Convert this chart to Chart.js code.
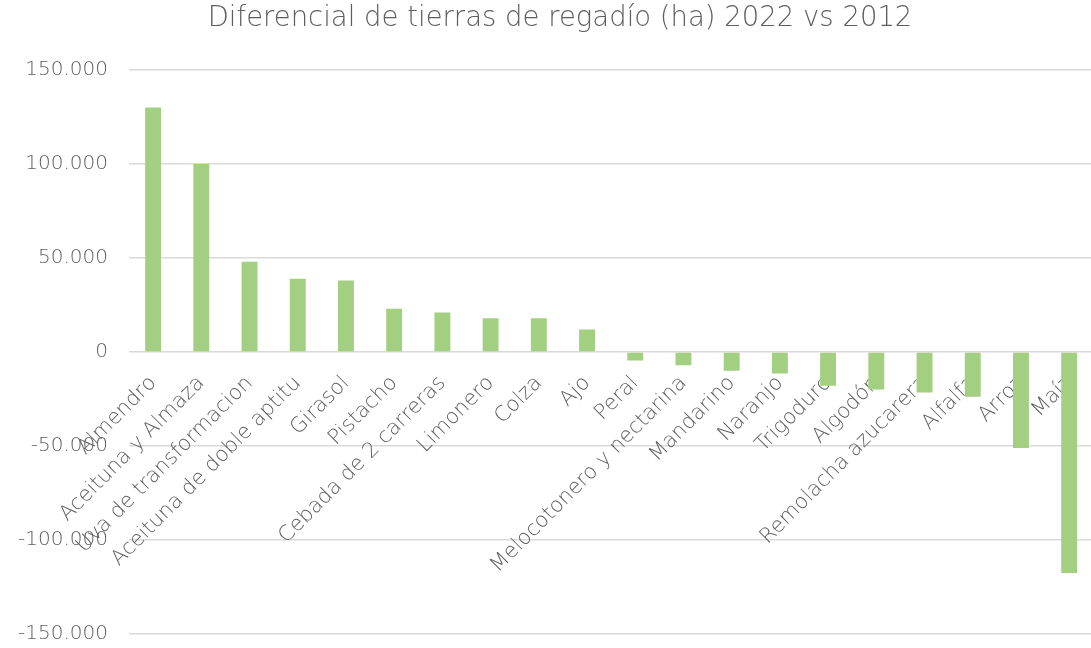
<!DOCTYPE html>
<html>
<head>
<meta charset="utf-8">
<script src="https://cdn.jsdelivr.net/npm/chart.js@4"></script>
<style>
  html, body { margin: 0; padding: 0; background: #fff; overflow: hidden; }
  #wrap { width: 1098px; height: 648px; }
</style>
</head>
<body>
<div id="wrap"><canvas id="c"></canvas></div>
<script>
const categories = ['Almendro', 'Aceituna y Almaza', 'Uva de transformacion', 'Aceituna de doble aptitu', 'Girasol', 'Pistacho', 'Cebada de 2 carreras', 'Limonero', 'Colza', 'Ajo', 'Peral', 'Melocotonero y nectarina', 'Mandarino', 'Naranjo', 'Trigoduro', 'Algodón', 'Remolacha azucarera', 'Alfalfa', 'Arroz', 'Maíz'];
const diferencial = [130000, 100000, 48000, 39000, 38000, 23000, 21000, 18000, 18000, 12000, -4500, -7000, -10000, -11500, -18000, -20000, -21500, -23800, -51000, -117500];
const yTicks = [-150000, -100000, -50000, 0, 50000, 100000, 150000];
const titleText = 'Diferencial de tierras de regadío (ha) 2022 vs 2012';

function fmt(v) {
  const s = Math.abs(v).toString().replace(/\B(?=(\d{3})+(?!\d))/g, '.');
  return (v < 0 ? '-' : '') + s;
}

new Chart(document.getElementById('c'), {
  type: 'bar',
  data: {
    labels: categories,
    datasets: [{
      data: diferencial,
      backgroundColor: '#a3cf80',
      borderWidth: 0,
      categoryPercentage: 1,
      barPercentage: 0.33
    }]
  },
  options: {
    responsive: true,
    maintainAspectRatio: false,
    animation: false,
    layout: { padding: { left: 22, right: 0, top: 0, bottom: 14 } },
    plugins: {
      legend: { display: false },
      tooltip: { enabled: false },
      title: {
        display: true,
        text: titleText,
        color: '#5e5e5e',
        font: { family: 'DejaVu Sans', weight: 200, size: 27.5 },
        padding: { top: 2, bottom: 35 }
      }
    },
    scales: {
      x: {
        position: { y: 0 },
        z: 1,
        grid: { display: false },
        border: { display: false },
        ticks: {
          autoSkip: false,
          maxRotation: 45,
          minRotation: 45,
          padding: 11,
          color: '#5e5e5e',
          font: { family: 'DejaVu Sans', weight: 200, size: 21 }
        },
        afterFit: (s) => { s.height = 0; }
      },
      y: {
        min: -150000,
        max: 150000,
        afterBuildTicks: (s) => { s.ticks = yTicks.map(v => ({ value: v })); },
        grid: { color: '#d9d9d9', lineWidth: 1.5, drawTicks: false },
        border: { display: false },
        ticks: {
          padding: 21,
          color: '#5e5e5e',
          font: { family: 'DejaVu Sans', weight: 200, size: 20 },
          callback: (v) => fmt(v)
        },
        afterFit: (s) => {
          s.width = 107;
          s.paddingTop = 0;
          s.paddingBottom = 0;
          s._computeLabelArea = () => undefined;
        }
      }
    }
  }
});
</script>
</body>
</html>
